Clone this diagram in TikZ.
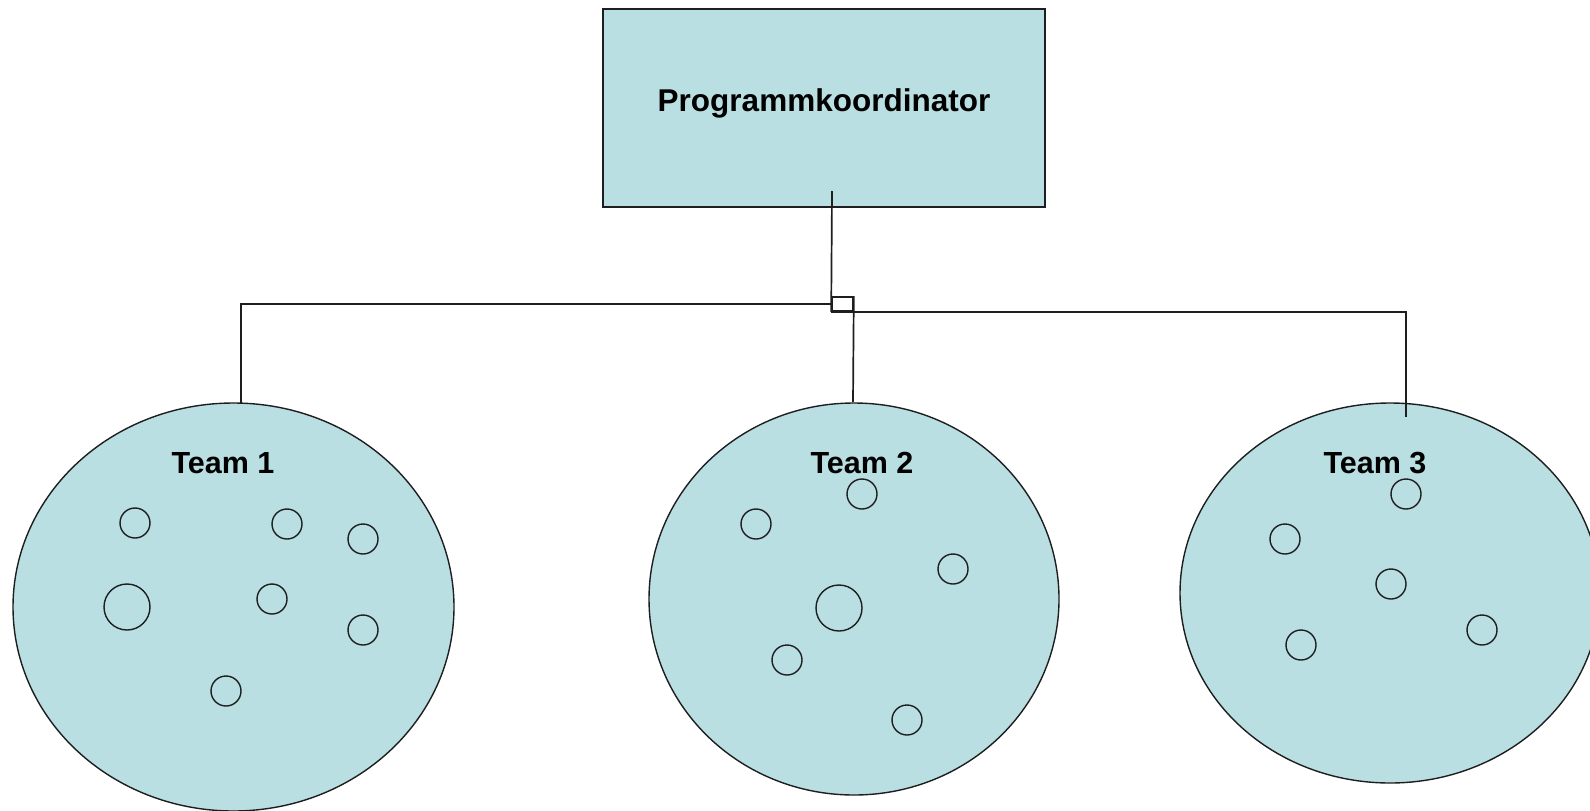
\documentclass[tikz,border=0pt]{standalone}
\usepackage{fontspec}
\setmainfont{Liberation Sans}
\usetikzlibrary{shapes.geometric}
\definecolor{panel}{RGB}{185,223,226}
\definecolor{ink}{RGB}{30,30,30}
\begin{document}
\begin{tikzpicture}[x=1pt,y=-1pt,
  boxstyle/.style={draw=ink, line width=1.6pt, fill=panel, inner sep=0pt},
  teamstyle/.style={ellipse, draw=ink, line width=1.4pt, fill=panel, inner sep=0pt},
  member/.style={circle, draw=ink, line width=1.4pt, inner sep=0pt, minimum size=30pt},
  lead/.style={member, minimum size=46pt},
  link/.style={draw=ink, line width=1.7pt},
  label/.style={font=\bfseries\fontsize{30.5}{34}\selectfont, text=black}]
\useasboundingbox (0,0) rectangle (1590,811);

% coordinator box
\node[boxstyle, minimum width=442pt, minimum height=198pt] (coord) at (824,108) {};
\node[font=\bfseries\fontsize{31.5}{36}\selectfont] (coordtext) at (824,103) {Programmkoordinator};

% teams
\node[teamstyle, minimum width=441pt, minimum height=408pt] (team1) at (233.5,607) {};
\node[teamstyle, minimum width=410pt, minimum height=392pt] (team2) at (854,599) {};
\node[teamstyle, minimum width=420pt, minimum height=380pt] (team3) at (1390,593) {};

\node[label] (t1label) at (223,463) {Team 1};
\node[label] (t2label) at (862,463) {Team 2};
\node[label] (t3label) at (1375,463) {Team 3};

% connectors
\coordinate (stem) at (832,191);
\node[draw=ink, line width=1.6pt, minimum width=21pt, minimum height=14pt, inner sep=0pt] (junction) at (842.5,304) {};
\coordinate (leftrun) at (832,304);
\coordinate (t1top) at (241,404);
\coordinate (t2top) at (853,402);
\coordinate (t3top) at (1406,417);

\draw[link] (stem) -- (junction.south west);
\draw[link] (leftrun) -| (t1top);
\draw[link] (junction.north east) -- (t2top);
\draw[link] (junction.south west) -| (t3top);

% members of team 1
\node[member] (m11) at (135,523) {};
\node[member] (m12) at (287,524) {};
\node[member] (m13) at (363,539) {};
\node[lead]   (m14) at (127,607) {};
\node[member] (m15) at (272,599) {};
\node[member] (m16) at (363,630) {};
\node[member] (m17) at (226,691) {};

% members of team 2
\node[member] (m21) at (862,494) {};
\node[member] (m22) at (756,524) {};
\node[member] (m23) at (953,569) {};
\node[lead]   (m24) at (839,608) {};
\node[member] (m25) at (787,660) {};
\node[member] (m26) at (907,720) {};

% members of team 3
\node[member] (m31) at (1406,494) {};
\node[member] (m32) at (1285,539) {};
\node[member] (m33) at (1391,584) {};
\node[member] (m34) at (1301,645) {};
\node[member] (m35) at (1482,630) {};
\end{tikzpicture}
\end{document}
